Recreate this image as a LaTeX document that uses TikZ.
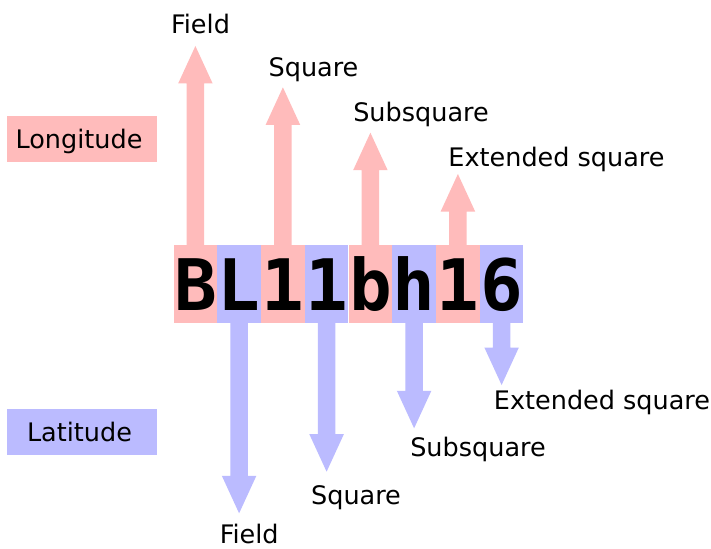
\documentclass[tikz,border=0pt]{standalone}
\usepackage{fontspec}
\setmainfont{DejaVu Sans}
\newfontfamily\codefont{DejaVu Sans Mono}
\usetikzlibrary{calc}
\definecolor{lon}{RGB}{255,187,187}
\definecolor{lat}{RGB}{187,187,255}
\tikzset{
  cell/.style={rectangle, inner sep=0pt, minimum width=43.75pt, text height=65pt, text depth=13pt,
    font=\codefont\bfseries\fontsize{71}{80}\selectfont, text=black},
  keybox/.style={rectangle, inner sep=0pt, minimum width=149.4pt, minimum height=46.5pt,
    text height=18.6pt, text depth=0pt, font=\fontsize{25.5}{30}\selectfont, text=black},
  lbl/.style={anchor=base, inner sep=0pt, font=\fontsize{25.5}{30}\selectfont, text=black}
}
\newcommand\lonarrow[2]{\fill[lon] let \p1=(#1.north), \p2=(#2) in
  (\x1-8.75pt,\y1-1pt) -- (\x1-8.75pt,\y2-37.5pt) -- (\x1-17.25pt,\y2-37.5pt) -- (\x1,\y2)
  -- (\x1+17.25pt,\y2-37.5pt) -- (\x1+8.75pt,\y2-37.5pt) -- (\x1+8.75pt,\y1-1pt) -- cycle;}
\newcommand\latarrow[2]{\fill[lat] let \p1=(#1.south), \p2=(#2) in
  (\x1-8.75pt,\y1+1pt) -- (\x1-8.75pt,\y2+37.5pt) -- (\x1-17.25pt,\y2+37.5pt) -- (\x1,\y2)
  -- (\x1+17.25pt,\y2+37.5pt) -- (\x1+8.75pt,\y2+37.5pt) -- (\x1+8.75pt,\y1+1pt) -- cycle;}
\begin{document}
\begin{tikzpicture}[x=1pt,y=-1pt]
\fill[white] (0,0) rectangle (711,548);
\useasboundingbox (0,0) rectangle (711,548);
% cells
\node[cell, fill=lon] (c1) at (195.4,284) {B};
\node[cell, fill=lat] (c2) at (239.1,284) {L};
\node[cell, fill=lon] (c3) at (282.9,284) {1};
\node[cell, fill=lat] (c4) at (326.6,284) {1};
\node[cell, fill=lon] (c5) at (370.4,284) {b};
\node[cell, fill=lat] (c6) at (414.1,284) {h};
\node[cell, fill=lon] (c7) at (457.9,284) {1};
\node[cell, fill=lat] (c8) at (501.6,284) {6};
% legend boxes
\node[keybox, fill=lon] (lonbox) at (82,139) {Longitude\hspace*{6pt}};
\node[keybox, fill=lat] (latbox) at (82,432) {Latitude\hspace*{5pt}};
% tips
\coordinate (t1) at (195.4,46);
\coordinate (t3) at (282.9,87.3);
\coordinate (t5) at (370.4,132.7);
\coordinate (t7) at (457.9,174);
\coordinate (t2) at (239.1,513.3);
\coordinate (t4) at (326.6,471.7);
\coordinate (t6) at (414.1,428.3);
\coordinate (t8) at (501.6,385);
\lonarrow{c1}{t1}
\lonarrow{c3}{t3}
\lonarrow{c5}{t5}
\lonarrow{c7}{t7}
\latarrow{c2}{t2}
\latarrow{c4}{t4}
\latarrow{c6}{t6}
\latarrow{c8}{t8}
% labels
\node[lbl] (u1) at (200.5,33.3) {Field};
\node[lbl] (u3) at (313.5,76.7) {Square};
\node[lbl] (u5) at (421,121.7) {Subsquare};
\node[lbl] (u7) at (556.5,166.7) {Extended square};
\node[lbl] (d2) at (249.2,543) {Field};
\node[lbl] (d4) at (356,504) {Square};
\node[lbl] (d6) at (478,456.7) {Subsquare};
\node[lbl] (d8) at (602,409.3) {Extended square};
\end{tikzpicture}
\end{document}
